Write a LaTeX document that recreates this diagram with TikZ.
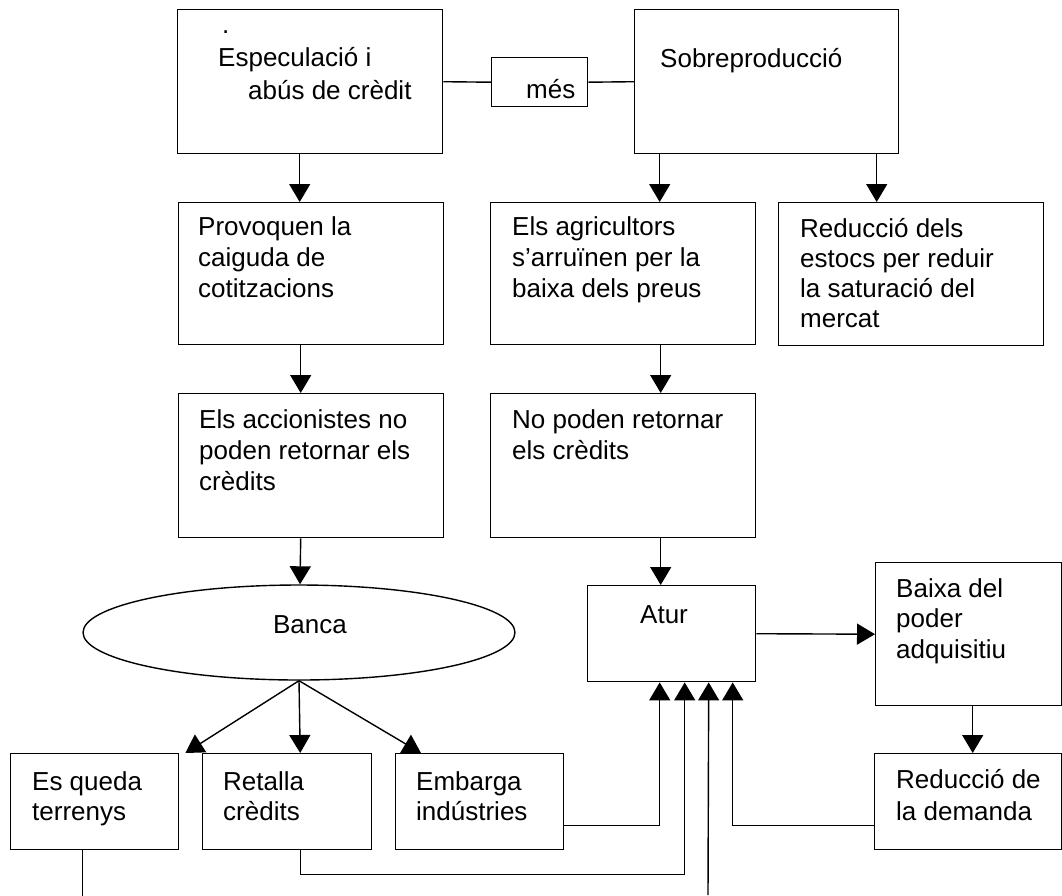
\documentclass[tikz,border=0pt]{standalone}
\usepackage{fontspec}
\setmainfont{Liberation Sans}
\usetikzlibrary{arrows.meta,shapes.geometric}
\tikzset{
  box/.style={draw, line width=1.4pt, rectangle, inner sep=0pt, anchor=north west},
  txt/.style={anchor=base west, inner sep=0pt},
  conn/.style={line width=1.4pt},
  arr/.style={conn, -{Triangle[width=21pt,length=18pt]}},
}
\newcommand{\tx}[2][31pt]{\parbox[t]{400pt}{\fontsize{26pt}{#1}\selectfont\raggedright #2}}
\begin{document}
\begin{tikzpicture}[x=1pt,y=-1pt]
\useasboundingbox (0,0) rectangle (1062,895);
\fill[white] (0,0) rectangle (1062,895);

% boxes
\node[box, minimum width=265pt, minimum height=144pt] (esp) at (177,9) {};
\node[box, minimum width=96pt, minimum height=49pt] (mes) at (491,57) {};
\node[box, minimum width=264pt, minimum height=144pt] (sob) at (634,9) {};
\node[box, minimum width=265pt, minimum height=142pt] (prov) at (178,202) {};
\node[box, minimum width=265pt, minimum height=142pt] (agr) at (490,202) {};
\node[box, minimum width=265pt, minimum height=143pt] (red) at (778,202) {};
\node[box, minimum width=265pt, minimum height=144pt] (acc) at (178,393) {};
\node[box, minimum width=265pt, minimum height=144pt] (nop) at (490,393) {};
\node[draw, line width=1.4pt, ellipse, inner sep=0pt, minimum width=432pt, minimum height=95pt] (banca) at (299,632.5) {};
\node[box, minimum width=168pt, minimum height=96pt] (atur) at (587,585) {};
\node[box, minimum width=185.5pt, minimum height=143pt] (baixa) at (875,562) {};
\node[box, minimum width=168pt, minimum height=96pt] (esq) at (10,753) {};
\node[box, minimum width=169pt, minimum height=96pt] (ret) at (202,753) {};
\node[box, minimum width=168pt, minimum height=96pt] (emb) at (395,753) {};
\node[box, minimum width=186.5pt, minimum height=96pt] (redd) at (874,753) {};

% texts
\node[txt] (espt) at (218,33) {\tx[33pt]{\hspace*{4pt}.\\Especulació i\\\hspace*{30pt}abús de crèdit}};
\node[txt] (mest) at (526,98) {\tx{més}};
\node[txt] (sobt) at (660,67) {\tx{Sobreproducció}};
\node[txt] (provt) at (198,235) {\tx{Provoquen la\\caiguda de\\cotitzacions}};
\node[txt] (agrt) at (512,235) {\tx{Els agricultors\\s’arruïnen per la\\baixa dels preus}};
\node[txt] (redt) at (800,237) {\tx[30pt]{Reducció dels\\estocs per reduir\\la saturació del\\mercat}};
\node[txt] (acct) at (199,428) {\tx{Els accionistes no\\poden retornar els\\crèdits}};
\node[txt] (nopt) at (512,428) {\tx{No poden retornar\\els crèdits}};
\node[anchor=base, inner sep=0pt, font=\fontsize{26pt}{31pt}\selectfont] (bancat) at (310,633) {Banca};
\node[txt] (atut) at (640,623) {\tx{Atur}};
\node[txt] (baixat) at (896,597) {\tx[30.5pt]{Baixa del\\poder\\adquisitiu}};
\node[txt] (esqt) at (32,790) {\tx[30pt]{Es queda\\terrenys}};
\node[txt] (rett) at (223,790) {\tx[30pt]{Retalla\\crèdits}};
\node[txt] (embt) at (416,790) {\tx[30pt]{Embarga\\indústries}};
\node[txt] (reddt) at (896,788) {\tx[32pt]{Reducció de\\la demanda}};

% connectors
\draw[conn] (esp.east) -- (mes.west);
\draw[conn] (mes.east) -- (sob.west);
\draw[arr] ([xshift=-10.5pt]esp.south) -- ([xshift=-11.5pt]prov.north);
\draw[arr] ([xshift=-107pt]sob.south) -- ([xshift=36.5pt]agr.north);
\draw[arr] ([xshift=110pt]sob.south) -- ([xshift=-34.5pt]red.north);
\draw[arr] ([xshift=-10.5pt]prov.south) -- ([xshift=-10.5pt]acc.north);
\draw[arr] ([xshift=37.5pt]agr.south) -- ([xshift=37.5pt]nop.north);
\draw[arr] ([xshift=-10.5pt]acc.south) -- ([xshift=1pt]banca.north);
\draw[arr] ([xshift=37.5pt]nop.south) -- ([xshift=-11pt]atur.north);
\draw[arr] (atur.east) -- (baixa.west);
\draw[arr] ([xshift=4.25pt]baixa.south) -- ([xshift=4.75pt]redd.north);
\draw[arr] (banca.south) -- ([xshift=6pt]esq.north east);
\draw[arr] (banca.south) -- ([xshift=13pt]ret.north);
\draw[arr] (banca.south) -- ([xshift=26pt]emb.north west);
\draw[arr] ([yshift=-24pt]emb.east) -| ([xshift=-12pt]atur.south);
\draw[arr] ([xshift=13.5pt]ret.south) -- ++(0,24) -| ([xshift=13pt]atur.south);
\draw[conn] ([xshift=-12pt]esq.south) -- ++(0,46);
\coordinate (cut) at (708,895);
\draw[arr] (cut) -- ([xshift=37pt]atur.south);
\draw[arr] ([yshift=-24pt]redd.west) -| ([xshift=61pt]atur.south);
\end{tikzpicture}
\end{document}
